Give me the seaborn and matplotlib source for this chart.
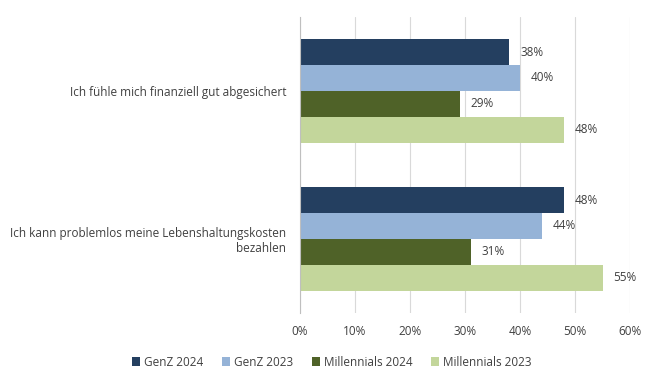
import pandas as pd
import matplotlib.pyplot as plt
import seaborn as sns

# Chart data
statements = ['Ich fühle mich finanziell gut abgesichert',
              'Ich kann problemlos meine Lebenshaltungskosten\nbezahlen']
groups = ['GenZ 2024', 'GenZ 2023', 'Millennials 2024', 'Millennials 2023']
genz_2024 = [38, 48]
genz_2023 = [40, 44]
millennials_2024 = [29, 31]
millennials_2023 = [48, 55]

colors = ['#243F60', '#95B3D7', '#4F6228', '#C3D69B']

rows = []
for g, vals in zip(groups, [genz_2024, genz_2023, millennials_2024, millennials_2023]):
    for s, v in zip(statements, vals):
        rows.append({'Aussage': s, 'Gruppe': g, 'Wert': v})
df = pd.DataFrame(rows)

sns.set_style('white')
plt.rcParams['font.family'] = ['Open Sans', 'DejaVu Sans']
text_color = '#404040'

fig = plt.figure(figsize=(6.57, 3.84), dpi=100)
ax = fig.add_axes([0.4566, 0.185, 0.5024, 0.771])

sns.barplot(data=df, y='Aussage', x='Wert', hue='Gruppe', hue_order=groups,
            order=statements, palette=colors, orient='h', width=0.7,
            saturation=1, linewidth=0, ax=ax, zorder=3)

for container in ax.containers:
    ax.bar_label(container, labels=[f'{v:.0f}%' for v in container.datavalues],
                 padding=8, fontsize=8.5, color=text_color)

ax.set_xlim(0, 60)
ax.set_xticks(range(0, 61, 10))
ax.set_xticklabels([f'{t}%' for t in range(0, 61, 10)], fontsize=8.5, color=text_color)
ax.tick_params(axis='x', length=0, pad=9)
ax.tick_params(axis='y', length=0, pad=10, labelsize=8.5, labelcolor=text_color)
for lbl in ax.get_yticklabels():
    lbl.set_horizontalalignment('right')
ax.grid(axis='x', color='#D9D9D9', linewidth=0.8, zorder=0)
ax.set_axisbelow(True)
ax.set_xlabel('')
ax.set_ylabel('')
for side in ['top', 'right', 'bottom']:
    ax.spines[side].set_visible(False)
ax.spines['left'].set_color('#BFBFBF')
ax.spines['left'].set_linewidth(0.8)
ax.spines['left'].set_zorder(4)

handles, labels = ax.get_legend_handles_labels()
ax.legend_.remove()
fig.legend(handles, labels, loc='center', bbox_to_anchor=(0.505, 0.057), ncol=4,
           frameon=False, fontsize=8.5, handlelength=0.7, handleheight=0.7,
           handletextpad=0.3, columnspacing=1.6, labelcolor=text_color)

fig.savefig('out.png', dpi=100)
